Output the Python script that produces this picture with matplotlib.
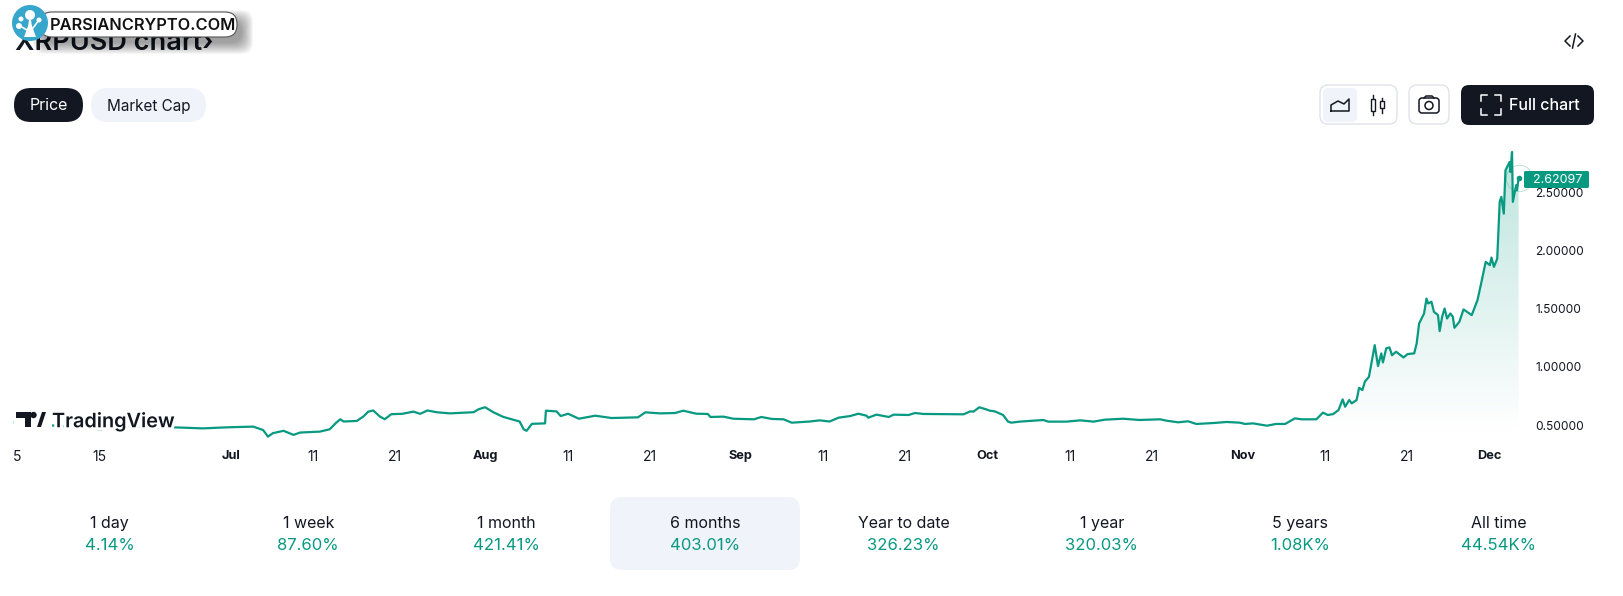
# XRPUSD 6 month price panel

import numpy as np
import matplotlib
matplotlib.use('Agg')
import matplotlib.pyplot as plt
import matplotlib.patheffects as pe
from matplotlib.patches import FancyBboxPatch, Circle, Rectangle, Polygon

WIDTH, HEIGHT = 1623, 596
DARK = '#131722'
TEAL = '#089981'
PALE = '#F0F3FA'
EDGE = '#E0E3EB'

plt.rcParams['font.family'] = ['Inter', 'DejaVu Sans']

# days counted from 1 Jul 2024
days = [-26.3, -22.6, -19.6, -15.9, -12.5, -9.0, -7.0, -3.4, -0.5, 2.7, 3.9, 4.5, 5.1, 6.4, 7.6, 8.4, 10.8, 12.0,
        12.8, 13.3, 13.7, 15.3, 16.1, 16.7, 17.3, 18.1, 18.7, 19.5, 20.8, 22.2, 23.0, 23.9, 25.0, 26.6, 29.5, 30.1,
        30.9, 31.9, 33.1, 34.1, 35.1, 35.6, 35.95, 36.6, 38.0, 38.2, 38.3, 39.6, 40.1, 41.0, 42.3, 44.3, 46.3, 49.5,
        50.4, 52.2, 54.0, 55.0, 56.6, 58.0, 58.3, 59.9, 61.1, 63.6, 64.5, 65.8, 67.2, 68.2, 70.4, 71.6, 72.8, 73.9,
        75.3, 76.3, 77.3, 77.5, 78.5, 80.0, 80.6, 82.4, 83.2, 84.2, 89.1, 89.9, 90.3, 91.0, 91.7, 92.3, 92.9, 93.9,
        94.5, 94.9, 95.9, 98.8, 99.4, 101.6, 103.3, 104.9, 106.3, 108.5, 110.5, 113.0, 113.8, 115.2, 116.4, 117.4,
        119.5, 121.1, 122.7, 123.3, 124.3, 126.0, 127.1, 128.2, 129.4, 130.2, 132.0, 132.8, 133.4, 134.05, 134.7,
        135.2, 135.5, 136.0, 136.3, 136.9, 137.2, 137.6, 137.9, 138.4, 138.7, 139.1, 139.5, 139.9, 140.1, 140.5,
        140.9, 141.2, 141.7, 142.6, 143.1, 143.9, 144.2, 144.5, 145.1, 145.4, 145.6, 146.0, 146.3, 146.8, 147.0,
        147.3, 147.6, 147.9, 148.3, 148.6, 148.8, 149.4, 149.9, 150.9, 151.6, 152.0, 152.6, 153.1, 153.3, 153.6,
        154.0, 154.3, 154.5, 154.8, 155.0, 155.5, 155.6, 155.8, 155.9, 156.3, 156.4, 156.6]
price = [0.523, 0.50, 0.486, 0.463, 0.495, 0.48, 0.48, 0.471, 0.48, 0.486, 0.457, 0.40, 0.43, 0.45, 0.415, 0.435, 0.443, 0.463,
         0.52, 0.549, 0.53, 0.535, 0.573, 0.615, 0.625, 0.573, 0.55, 0.593, 0.596, 0.615, 0.596, 0.625, 0.61, 0.60, 0.61, 0.635,
         0.653, 0.61, 0.57, 0.55, 0.53, 0.463, 0.45, 0.51, 0.514, 0.514, 0.623, 0.617, 0.577, 0.597, 0.554, 0.58, 0.56, 0.566,
         0.609, 0.60, 0.603, 0.623, 0.597, 0.595, 0.569, 0.572, 0.554, 0.549, 0.569, 0.552, 0.549, 0.52, 0.53, 0.54, 0.53, 0.563,
         0.577, 0.597, 0.58, 0.563, 0.589, 0.569, 0.589, 0.586, 0.603, 0.595, 0.592, 0.617, 0.615, 0.652, 0.638, 0.623, 0.617, 0.586,
         0.529, 0.52, 0.529, 0.543, 0.529, 0.529, 0.54, 0.529, 0.546, 0.554, 0.543, 0.549, 0.537, 0.523, 0.532, 0.509,
         0.517, 0.526, 0.52, 0.509, 0.514, 0.494, 0.509, 0.509, 0.557, 0.549, 0.549, 0.606, 0.586, 0.594, 0.629,
         0.72, 0.657, 0.715, 0.686, 0.715, 0.82, 0.80, 0.872, 0.915, 1.03, 1.187, 1.007, 1.116, 1.038, 1.159,
         1.167, 1.10, 1.13, 1.081, 1.11, 1.116, 1.20, 1.373, 1.459, 1.588, 1.545, 1.56, 1.474, 1.445, 1.308,
         1.431, 1.502, 1.416, 1.459, 1.431, 1.336, 1.388, 1.494, 1.445, 1.574, 1.703, 1.903, 1.875, 1.94, 1.86,
         1.93, 2.419, 2.462, 2.318, 2.69, 2.762, 2.676, 2.848, 2.419, 2.562, 2.519, 2.62]

current_price = 2.62097

tick_days = [-26, -16, 0, 10, 20, 31, 41, 51, 62, 72, 82, 92, 102, 112, 123, 133, 143, 153]
tick_labels = ['5', '15', 'Jul', '11', '21', 'Aug', '11', '21', 'Sep', '11', '21', 'Oct', '11', '21', 'Nov', '11', '21', 'Dec']
price_ticks = [0.5, 1.0, 1.5, 2.0, 2.5]

periods = ['1 day', '1 week', '1 month', '6 months', 'Year to date', '1 year', '5 years', 'All time']
changes = ['4.14%', '87.60%', '421.41%', '403.01%', '326.23%', '320.03%', '1.08K%', '44.54K%']
selected_period = '6 months'


def rounded(ui, x0, y0, x1, y1, radius, face, edge='none', lw=1.0, zorder=2, alpha=None):
    box = FancyBboxPatch((x0 + radius, y0 + radius), x1 - x0 - 2 * radius, y1 - y0 - 2 * radius,
                         boxstyle='round,pad=%f,rounding_size=%f' % (radius, radius),
                         facecolor=face, edgecolor=edge, linewidth=lw, zorder=zorder, alpha=alpha)
    ui.add_patch(box)


def draw_chart(ax):
    ax.set_xlim(-26.39, 156.77)
    ax.set_ylim(0.371, 2.951)
    ax.patch.set_alpha(0)
    for spine in ax.spines.values():
        spine.set_visible(False)

    # area gradient below the line
    fill = ax.fill_between(days, price, 0.41, color='none', linewidth=0)
    shade = np.zeros((256, 2, 4))
    shade[..., :3] = matplotlib.colors.to_rgb(TEAL)
    shade[..., 3] = np.linspace(0.27, 0.0, 256)[:, None]
    im = ax.imshow(shade, extent=(days[0], days[-1], 0.41, 2.85), origin='upper', aspect='auto', zorder=1)
    im.set_clip_path(fill.get_paths()[0], transform=ax.transData)
    ax.set_xlim(-26.39, 156.77)
    ax.set_ylim(0.371, 2.951)

    ax.plot(days, price, color=TEAL, linewidth=1.6, solid_joinstyle='round', zorder=3, clip_on=False)
    ax.plot(days[-1], price[-1], 'o', markersize=19, markerfacecolor='none', markeredgecolor=TEAL,
            markeredgewidth=0.6, alpha=0.3, zorder=3, clip_on=False)
    ax.plot(days[-1], price[-1], 'o', markersize=3, color=TEAL, zorder=4, clip_on=False)

    ax.set_xticks(tick_days)
    ax.set_xticklabels(tick_labels)
    ax.set_yticks(price_ticks)
    ax.set_yticklabels(['%.5f' % p for p in price_ticks])
    ax.yaxis.tick_right()
    ax.tick_params(axis='x', length=0, pad=7, labelsize=10, labelcolor=DARK)
    ax.tick_params(axis='y', length=0, pad=11, labelsize=8.6, labelcolor=DARK)
    for label in ax.get_xticklabels():
        if label.get_text().isalpha():
            label.set_fontweight('bold')
            label.set_fontsize(9.2)


def draw_header(ui):
    ui.text(15, 50, 'XRPUSD chart\u203a', fontsize=19.5, fontweight='semibold', color=DARK, va='baseline', zorder=2)

    # watermark pill with soft shadow
    for grow in range(1, 13):
        rounded(ui, 40 - grow + 5, 14 - grow + 8, 237 + grow + 4, 37 + grow + 5, 12, '#000000', zorder=3, alpha=0.035)
    rounded(ui, 40, 12, 237, 37, 12, 'white', edge='#555555', lw=0.8, zorder=4)
    ui.text(50, 25, 'PARSIANCRYPTO.COM', fontsize=11.8, fontweight='semibold', color='#111111',
            va='center', ha='left', zorder=5)
    ui.add_patch(Circle((30, 23), 18, facecolor='#37A6CC', edgecolor='none', zorder=6))
    ui.add_patch(Polygon([(24, 37), (36, 37), (32, 26), (31, 20), (29, 20), (28, 26)], facecolor='white', zorder=7))
    for cx, cy, r in [(30, 15, 5), (19, 26, 3), (21, 19, 2.5), (39, 20, 2.5)]:
        ui.add_patch(Circle((cx, cy), r, facecolor='white', zorder=7))
    ui.plot([20, 27], [26, 30], color='white', lw=1.2, zorder=7)
    ui.plot([39, 33], [20, 28], color='white', lw=1.2, zorder=7)

    # price / market cap tabs
    rounded(ui, 14, 88, 83, 122, 17, DARK)
    ui.text(48.5, 106, 'Price', color='white', fontsize=11.5, ha='center', va='center', zorder=3)
    rounded(ui, 91, 88, 206, 122, 17, PALE)
    ui.text(148.5, 106, 'Market Cap', color=DARK, fontsize=11, ha='center', va='center', zorder=3)

    # embed icon
    ui.plot([1570, 1565, 1570], [36, 41, 46], color=DARK, lw=1.1)
    ui.plot([1578, 1583, 1578], [36, 41, 46], color=DARK, lw=1.1)
    ui.plot([1572.5, 1575.5], [48, 34], color=DARK, lw=1.1)

    # chart type group
    rounded(ui, 1320, 85, 1397, 124, 8, 'white', edge=EDGE, lw=1.0)
    rounded(ui, 1323, 88, 1357, 122, 5, PALE, zorder=3)
    ui.plot([1331, 1331, 1338, 1344, 1349, 1349, 1331], [111, 105, 101, 104, 99, 111, 111], color=DARK, lw=1.1, zorder=4)
    ui.plot([1373, 1373], [95, 115], color=DARK, lw=1.0, zorder=4)
    ui.add_patch(Rectangle((1371, 99), 4, 12, facecolor='white', edgecolor=DARK, lw=1.0, zorder=5))
    ui.plot([1382, 1382], [98, 113], color=DARK, lw=1.0, zorder=4)
    ui.add_patch(Rectangle((1380, 101), 4, 7, facecolor='white', edgecolor=DARK, lw=1.0, zorder=5))

    # camera button
    rounded(ui, 1409, 85, 1449, 124, 8, 'white', edge=EDGE, lw=1.0)
    rounded(ui, 1419, 98, 1439, 113, 3, 'white', edge=DARK, lw=1.1, zorder=3)
    ui.plot([1424, 1426, 1432, 1434], [98, 96, 96, 98], color=DARK, lw=1.1, zorder=4)
    ui.add_patch(Circle((1429, 105.5), 4, facecolor='white', edgecolor=DARK, lw=1.1, zorder=4))

    # full chart button
    rounded(ui, 1461, 85, 1594, 125, 8, DARK)
    for x, y, dx, dy in [(1481, 95, 1, 1), (1501, 95, -1, 1), (1481, 115, 1, -1), (1501, 115, -1, -1)]:
        ui.plot([x + 6 * dx, x, x], [y, y, y + 6 * dy], color='white', lw=1.1, zorder=4)
    ui.text(1544, 106, 'Full chart', color='white', fontsize=11.5, fontweight='medium', ha='center', va='center', zorder=4)


def draw_overlays(ui):
    # tradingview attribution sits over the line
    halo = [pe.withStroke(linewidth=4.5, foreground='white')]
    ui.text(52, 422, 'TradingView', fontsize=14.3, fontweight='semibold', color=DARK, ha='left', va='center',
            path_effects=halo, zorder=6)
    ui.add_patch(Rectangle((14, 410), 38, 21, facecolor='white', edgecolor='none', zorder=5))
    ui.add_patch(Polygon([(16, 412), (31, 412), (31, 427), (25, 427), (25, 418), (16, 418)], facecolor=DARK, zorder=6))
    ui.add_patch(Circle((33.5, 415), 3.2, facecolor=DARK, zorder=6))
    ui.add_patch(Polygon([(37, 427), (42, 412), (46, 412), (41, 427)], facecolor=DARK, zorder=6))

    # last price badge
    rounded(ui, 1524, 171, 1589, 188, 1.5, TEAL, zorder=6)
    ui.text(1558, 180, '%.5f' % current_price, color='white', fontsize=9, ha='center', va='center', zorder=7)


def draw_periods(ui):
    for index, (period, change) in enumerate(zip(periods, changes)):
        x = 705 + 198.4 * (index - 3)
        if period == selected_period:
            rounded(ui, 610, 497, 800, 570, 12, PALE)
        ui.text(x, 523.5, period, color=DARK, fontsize=11.5, ha='center', va='center', zorder=3)
        ui.text(x, 546, change, color=TEAL, fontsize=12, ha='center', va='center', zorder=3)


if __name__ == '__main__':
    fig = plt.figure(figsize=(WIDTH / 100, HEIGHT / 100), dpi=100, facecolor='white')

    # screen furniture is placed in pixels on a full size layer
    ui = fig.add_axes([0, 0, 1, 1], zorder=2)
    ui.set_xlim(0, WIDTH)
    ui.set_ylim(HEIGHT, 0)
    ui.axis('off')

    ax = fig.add_axes([14 / WIDTH, (HEIGHT - 440) / HEIGHT, 1506 / WIDTH, 300 / HEIGHT], zorder=1)
    draw_chart(ax)
    draw_header(ui)
    draw_overlays(ui)
    draw_periods(ui)
    ui.set_xlim(0, WIDTH)
    ui.set_ylim(HEIGHT, 0)

    fig.savefig('out.png', dpi=100)
